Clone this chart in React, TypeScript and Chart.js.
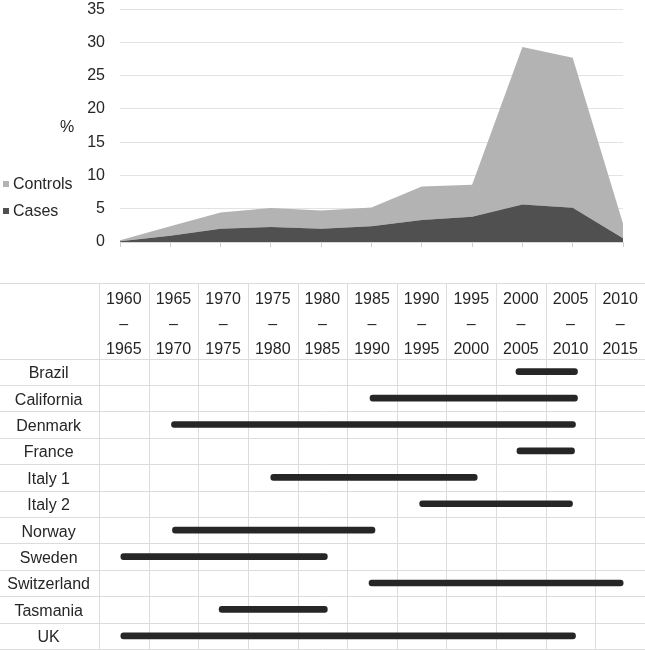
import React, { useEffect, useRef } from 'react';
import { Chart, registerables } from 'chart.js';

Chart.register(...registerables);

const FONT = "'Liberation Sans', Arial, Helvetica, sans-serif";
const TEXT = '#262626';

// ---- Top chart data ----
const periodStarts = [1960, 1965, 1970, 1975, 1980, 1985, 1990, 1995, 2000, 2005, 2010];
const periodEnds = [1965, 1970, 1975, 1980, 1985, 1990, 1995, 2000, 2005, 2010, 2015];
const casesPct = [0.1, 0.95, 2.0, 2.25, 2.0, 2.35, 3.3, 3.8, 5.65, 5.15, 0.55];
const controlsPct = [0.15, 1.4, 2.45, 2.85, 2.75, 2.85, 5.05, 4.8, 23.65, 22.55, 2.25];
const yMax = 35;
const yStep = 5;
const seriesNames = ['Cases', 'Controls'];
const seriesColors = ['#505050', '#b3b3b3'];

// ---- Bottom chart data ----
const countries = ['Brazil', 'California', 'Denmark', 'France', 'Italy 1', 'Italy 2', 'Norway', 'Sweden', 'Switzerland', 'Tasmania', 'UK'];
const studyStart = [2002.0, 1987.3, 1967.3, 2002.1, 1977.3, 1992.3, 1967.4, 1962.2, 1987.2, 1972.1, 1962.2];
const studyEnd = [2008.2, 2008.2, 2008.0, 2007.9, 1998.1, 2007.7, 1987.8, 1983.0, 2012.8, 1983.0, 2008.0];

const periodLabels = periodStarts.map((s, i) => `${s}–${periodEnds[i]}`);
const headerLabels = periodStarts.map((s, i) => [String(s), '–', String(periodEnds[i])]);

const topLegendPlugin = {
  id: 'topLegend',
  afterDraw(chart: any) {
    const ctx = chart.ctx;
    const area = chart.chartArea;
    ctx.save();
    ctx.font = `16px ${FONT}`;
    ctx.fillStyle = TEXT;
    ctx.textAlign = 'center';
    ctx.textBaseline = 'middle';
    ctx.fillText('%', 67, (area.top + area.bottom) / 2 + 2);
    const items = [
      { name: seriesNames[1], color: seriesColors[1], y: 184 },
      { name: seriesNames[0], color: seriesColors[0], y: 211 },
    ];
    ctx.textAlign = 'left';
    for (const it of items) {
      ctx.fillStyle = it.color;
      ctx.fillRect(3, it.y - 3, 6, 6);
      ctx.fillStyle = TEXT;
      ctx.fillText(it.name, 13, it.y + 1);
    }
    ctx.restore();
  },
};

const tableLinesPlugin = {
  id: 'tableLines',
  beforeDatasetsDraw(chart: any) {
    const ctx = chart.ctx;
    const area = chart.chartArea;
    const xs = chart.scales.x;
    const ys = chart.scales.y;
    const hdr = chart.scales.x2;
    const top = hdr.top;
    ctx.save();
    ctx.strokeStyle = '#dcdcdc';
    ctx.lineWidth = 1;
    ctx.beginPath();
    const bounds = [...periodStarts, periodEnds[periodEnds.length - 1]];
    for (const v of bounds) {
      const x = Math.round(xs.getPixelForValue(v)) + 0.5;
      ctx.moveTo(x, top);
      ctx.lineTo(x, area.bottom + 1);
    }
    const tY = Math.round(top) + 0.5;
    ctx.moveTo(0, tY);
    ctx.lineTo(chart.width, tY);
    for (let i = 0; i <= countries.length; i++) {
      const y = Math.round(ys.getPixelForValue(i - 0.5)) + 0.5;
      ctx.moveTo(0, y);
      ctx.lineTo(chart.width, y);
    }
    ctx.stroke();
    ctx.restore();
  },
};

function AreaChart() {
  const ref = useRef<HTMLCanvasElement>(null);
  useEffect(() => {
    const chart = new Chart(ref.current as HTMLCanvasElement, {
      type: 'line',
      data: {
        labels: periodLabels,
        datasets: [
          {
            label: seriesNames[0],
            data: casesPct,
            backgroundColor: seriesColors[0],
            borderWidth: 0,
            pointRadius: 0,
            fill: 'origin',
            tension: 0,
          },
          {
            label: seriesNames[1],
            data: controlsPct,
            backgroundColor: seriesColors[1],
            borderWidth: 0,
            pointRadius: 0,
            fill: '-1',
            tension: 0,
          },
        ],
      },
      options: {
        responsive: false,
        animation: false,
        layout: { padding: { left: 0, right: 22, top: 0, bottom: 0 } },
        plugins: { legend: { display: false }, tooltip: { enabled: false } },
        scales: {
          x: {
            type: 'category',
            offset: false,
            grid: { display: true, drawOnChartArea: false, drawTicks: true, tickLength: 5, color: '#cfcfcf' },
            border: { display: true, color: '#d6d6d6' },
            ticks: { display: false },
            afterFit(scale: any) { scale.height = 10; },
          },
          y: {
            stacked: true,
            min: 0,
            max: yMax,
            ticks: { stepSize: yStep, font: { size: 16, family: FONT, lineHeight: 1.15 }, color: TEXT, padding: 0 },
            grid: { color: '#e3e3e3', drawTicks: true, tickLength: 15, tickColor: 'rgba(0,0,0,0)' },
            border: { display: false },
            afterFit(scale: any) { scale.width = 120; },
          },
        },
      },
      plugins: [topLegendPlugin],
    } as any);
    return () => chart.destroy();
  }, []);
  return <canvas ref={ref} width={645} height={252} style={{ display: 'block' }} />;
}

function GanttChart() {
  const ref = useRef<HTMLCanvasElement>(null);
  useEffect(() => {
    const chart = new Chart(ref.current as HTMLCanvasElement, {
      type: 'bar',
      data: {
        labels: countries,
        datasets: [
          {
            label: 'Study period',
            data: countries.map((_, i) => [studyStart[i], studyEnd[i]]),
            backgroundColor: '#262626',
            barThickness: 6,
            borderRadius: 3,
            borderSkipped: false,
            xAxisID: 'x',
            yAxisID: 'y',
          },
        ],
      },
      options: {
        indexAxis: 'y',
        responsive: false,
        animation: false,
        layout: { padding: { left: 0, right: 0, top: 13, bottom: 1 } },
        plugins: { legend: { display: false }, tooltip: { enabled: false } },
        scales: {
          x: {
            type: 'linear',
            display: false,
            min: periodStarts[0],
            max: periodEnds[periodEnds.length - 1],
          },
          x2: {
            type: 'category',
            axis: 'x',
            position: 'top',
            labels: headerLabels,
            offset: true,
            grid: { display: false, drawTicks: false },
            border: { display: false },
            ticks: { font: { size: 16, family: FONT, lineHeight: 1.5625 }, color: TEXT, padding: -4, maxRotation: 0, autoSkip: false },
            afterFit(scale: any) { scale.height = 75.5; },
          },
          y: {
            type: 'category',
            offset: true,
            grid: { display: false, drawTicks: true, tickLength: 9 },
            border: { display: false },
            ticks: { font: { size: 16, family: FONT, lineHeight: 0.1 }, color: TEXT, crossAlign: 'center', padding: 0, labelOffset: 2, autoSkip: false },
            afterFit(scale: any) { scale.width = 99; },
          },
        },
      },
      plugins: [tableLinesPlugin],
    } as any);
    return () => chart.destroy();
  }, []);
  return <canvas ref={ref} width={645} height={380} style={{ display: 'block' }} />;
}

export default function App() {
  return (
    <div style={{ position: 'absolute', left: 0, top: 0, width: 645, height: 650, background: '#fff' }}>
      <div style={{ position: 'absolute', left: 0, top: 0 }}>
        <AreaChart />
      </div>
      <div style={{ position: 'absolute', left: 0, top: 270 }}>
        <GanttChart />
      </div>
    </div>
  );
}
